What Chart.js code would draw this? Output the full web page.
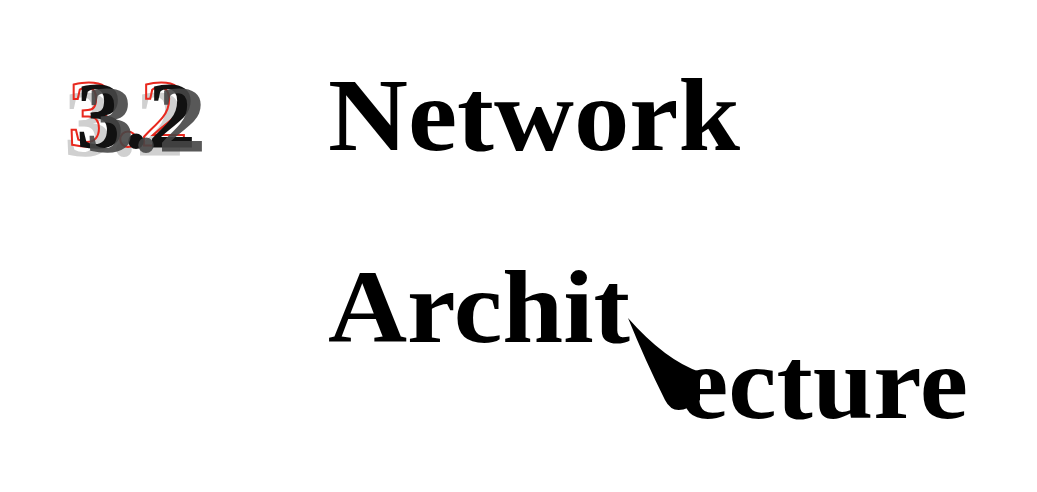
<!DOCTYPE html>
<html><head><meta charset="utf-8">
<script src="https://cdn.jsdelivr.net/npm/chart.js@4"></script>
<style>html,body{margin:0;background:#fff}#w{width:1037px;height:492px}</style>
</head><body><div id="w"><canvas id="c"></canvas></div>
<script>
const sectionNumber = ["3.2"];
const titleWords = ["Network", "Archit", "ecture"];

const textPlugin = {
  id: 'typo',
  afterDraw(chart) {
    const ctx = chart.ctx;
    ctx.save();
    ctx.textBaseline = 'alphabetic';
    const numFont = 'bold 96px "Liberation Serif"';
    ctx.font = numFont;
    const n = sectionNumber[0];
    ctx.fillStyle = '#d0d0d0'; ctx.fillText(n, 64, 156);
    ctx.strokeStyle = '#e8281e'; ctx.lineWidth = 2; ctx.strokeText(n, 68, 146);
    ctx.fillStyle = '#111'; ctx.fillText(n, 76, 148);
    ctx.fillStyle = 'rgba(70,70,70,0.9)'; ctx.fillText(n, 86, 152);

    ctx.fillStyle = '#000';
    const f = 'bold 104px "Liberation Serif"';
    ctx.font = f;
    const fit = (t, x, y, w) => {
      const m = ctx.measureText(t).width;
      ctx.save(); ctx.translate(x, y); ctx.scale(w / m, 1); ctx.fillText(t, 0, 0); ctx.restore();
    };
    fit(titleWords[0], 328, 150, 412);
    fit(titleWords[1], 328, 342, 302);
    fit(titleWords[2], 680, 418, 288);
    // swoosh
    ctx.beginPath();
    ctx.moveTo(628, 318);
    ctx.quadraticCurveTo(665, 360, 700, 372);
    ctx.lineTo(700, 400);
    ctx.quadraticCurveTo(675, 420, 665, 400);
    ctx.quadraticCurveTo(645, 360, 628, 318);
    ctx.fill();
    ctx.restore();
  }
};

new Chart(document.getElementById('c'), {
  type: 'scatter',
  data: { datasets: [{ data: [] }] },
  options: {
    responsive: true, maintainAspectRatio: false, animation: false,
    plugins: { legend: { display: false }, tooltip: { enabled: false } },
    scales: { x: { display: false }, y: { display: false } }
  },
  plugins: [textPlugin]
});
</script></body></html>
